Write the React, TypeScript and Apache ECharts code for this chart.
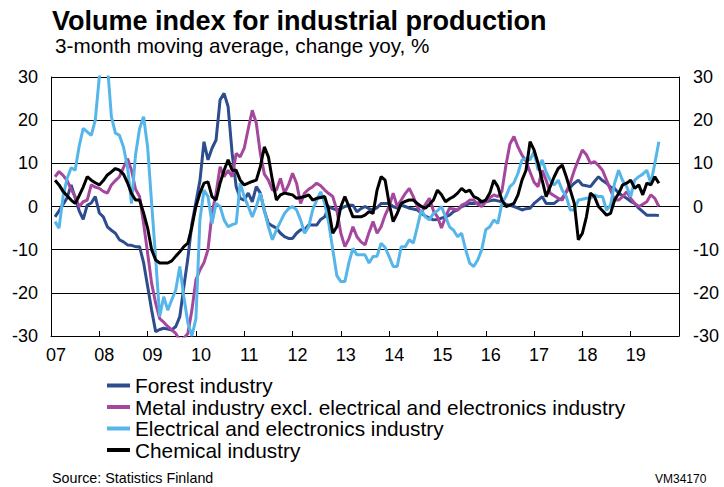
import React, { useEffect, useRef } from "react";
import * as echarts from "echarts";

// Monthly values, 3-month moving average, change yoy, %. First value = Feb 2007 (month index 1, Jan 2007 = 0)
const START_INDEX = 1;
const YEAR_TICKS = ["07", "08", "09", "10", "11", "12", "13", "14", "15", "16", "17", "18", "19"];
const SERIES_NAMES = [
  "Forest industry",
  "Metal industry excl. electrical and electronics industry",
  "Electrical and electronics industry",
  "Chemical industry",
];

const forest = [
  -2.4, -1, 0.5, 2, 5, 2, -1, -3, 0.3, 0.8, 2.3,
  -1.5, -2.4, -4.7, -5.5, -6.2, -7.7, -8.2, -8.9, -9, -9.3, -9.3, -13,
  -18.5, -24, -29, -28.5, -28.2, -28.4, -28.6, -27.8, -25.5, -18.6, -12, -4,
  1, 6, 15, 10.8, 13.5, 15.4, 24.7, 26.2, 23.1, 12.3, 4.6, 1.9,
  1.5, 3.1, 1.1, 4.6, 3.1, -1, -3.9, -4.5, -5, -6.2, -7, -7.4,
  -7.4, -6.2, -5.4, -5.4, -4.3, -4.3, -4.3, -3, -2.4, 0, -0.5, -0.8,
  -0.5, 0, 0.3, 0.3, -1.2, -0.5, 0, -0.5, -0.8, -0.3, 0.7, 0.7,
  0.7, 0, -0.4, 0.3, 0, -0.4, -0.6, -0.8, -1.6, -2.2, -2.7, -3.1,
  -3, -2.7, -2.4, -2, -1.2, -0.8, 0, 0.3, 0.7, 0.7, 0.8, 1,
  1.1, 1.3, 1.5, 1.3, 1.1, 0.5, 0.3, 0, -0.4, -0.8, -0.5, -0.4,
  0.7, 1.5, 2.3, 0.7, 0.7, 0.7, 1.5, 1.9, 3.4, 4.5, 5.4, 6.1,
  5, 4.8, 4.6, 5.8, 6.9, 6, 5.4, 4.5, 4.2, 3.1, 2.5, 1.9,
  1.2, 0.7, -0.4, -1.2, -2, -2, -2, -2.1,
];

const metal = [
  6.9, 8.1, 7.2, 6, 4, 2.3, 0, 1.1, 1.5, 5, 4.5,
  4.2, 3.5, 3.1, 5, 6, 6.9, 9, 11.1, 8.4, 4, 2.3, -3.9,
  -10.8, -17.8, -22.4, -26, -26.8, -27.8, -28.6, -29.4, -31, -30.5, -29.4, -24,
  -17, -14.7, -13, -10, -1.6, 3, 9.2, 6.9, 8.4, 6.9, 12.3, 11.5,
  13.5, 18, 22.3, 19.3, 12.3, 7.5, 6.1, 3.8, 3.8, 6.5, 3.1, 5,
  7.7, 5.4, 0.7, 3.1, 4, 4.6, 5.4, 4.8, 3.8, 3, 2.3, -0.8,
  -6.2, -9.3, -7.5, -4.7, -7, -8.2, -8.9, -6, -3.5, -6.2, -4.7, -2,
  0, 3.1, 0, 1.5, 3, 4.2, 2.3, 0, -1.6, 0.5, 1.9, -1,
  -2.4, -5, -2.4, -0.4, -0.6, -0.8, 0.3, 0.7, 1.5, 1.5, 0.5, 0,
  1.1, 2, 2.7, 2.3, 3.5, 9.5, 14.5, 16.2, 13.8, 11.9, 10.5, 8,
  5.6, 4.6, 8.4, 6.1, 3.1, 2.5, 1.9, 1.5, 3.4, 5.5, 8.4, 10.8,
  13.1, 12, 10, 10.4, 9.5, 8.4, 6.1, 3.8, 1.5, 1.5, 2.3, 3.4,
  1.9, 0.7, 0, 0.5, 1.1, 2.7, 1.9, 0,
];

const electrical = [
  -3.5, -5, 2.3, 6.5, 9, 8.4, 14, 18.1, 17.3, 16.5, 20,
  30, 34, 33, 20.8, 17, 16.5, 13.8, 9.2, 0.7, 12, 18, 20.8,
  13.8, 0.7, -12, -25.5, -20.9, -24, -21.6, -19.3, -13.9, -20.9, -27, -30,
  -26, -3, 3.8, 2.3, -3.9, 0.7, 0, -3.1, -4.7, -4.2, -3.9, 5.4,
  2.3, 0, -2.4, 0, 3.1, -0.8, -4.7, -7.7, -5.4, -3.5, -1.6, -0.5,
  0, -0.8, -3.1, -6.2, -4.7, -0.8, 1.5, 3.4, 0.7, -3.9, -10, -16,
  -17.4, -17.4, -13, -9.7, -11.2, -11.2, -11.2, -13.1, -11.6, -11.5, -8.5, -9.5,
  -11.6, -13.9, -13.9, -9.3, -9.3, -7.7, -8.5, -4.7, -0.8, -2.4, -3.1, -1.6,
  -1, 0, -2.4, -4.7, -5.5, -7, -6.2, -10, -13.1, -13.9, -12.4, -10,
  -5.4, -4.7, -3.1, -3.9, 0.7, 2.3, 4.6, 5.5, 7.7, 10.8, 11.1, 10.8,
  12.7, 8.4, 10.8, 8, 6.1, 5, 6.1, 3.8, 2.3, -0.8, -0.8, 1.5,
  1.7, 1.9, 1.9, 2.7, 2.3, 2.3, -0.8, 0.3, 5.4, 8.4, 6, 4.6,
  2.3, 6.1, 6.9, 7.5, 8.4, 5.4, 10, 15,
];

const chemical = [
  6.1, 5, 3.5, 2.5, 1.5, 0.7, 2.5, 4.5, 6.9, 6.1, 5.5,
  5, 6, 7.3, 8, 8.8, 8.4, 7.5, 5.5, 3, 1.5, 1.5, -1.5,
  -5, -10, -12.4, -13.1, -13.1, -13.1, -12.6, -11.5, -10.5, -9.3, -8.5, -4.7,
  0, 3.1, 5.4, 5.7, 2.3, 1.5, 5.4, 8.4, 10.8, 8.4, 8.4, 6.1,
  5, 5.4, 5.8, 6.1, 9.2, 13.8, 11.5, 6.1, 1.5, 2.7, 3.1, 2.9,
  2.7, 1.9, 2.1, 2.3, 2.7, 1.5, 1.9, 2.1, 2.3, -0.8, -6.2, -4.7,
  0, 2.3, 0, -2.4, -2.4, -2.4, -2, -1.2, -1.6, 3.8, 6.9, 6.1,
  0.7, -3.5, -1.6, 0.7, 1.2, 1.5, 1.5, 0.7, 0, -0.4, 0.5, 1.5,
  3.8, 2.7, 1.1, 1.8, 2.3, 3.1, 4.2, 3.4, 3.8, 2.3, 1.9, 1.1,
  1.5, 3.1, 6.1, 4.6, 1.5, 0, 0.3, 0.7, 2.7, 6.1, 8.4, 15,
  13.1, 10, 6.1, 2.3, 4.6, 6.9, 8.8, 9.6, 6.9, 3.8, 0.7, -7.7,
  -6.2, -2.4, 3.1, 2.3, 0, -1, -2, -1.6, 1.5, 3, 5, 5.4,
  6.1, 4.2, 5, 2.7, 5.4, 5, 6.9, 5.4,
];

const COLORS = ["#2E4D8E", "#A5489D", "#56B5E9", "#000000"];
const FONT = '"Liberation Sans", Arial, Helvetica, sans-serif';

const toData = (arr: number[]) => arr.map((v, i) => [i + START_INDEX, v]);

export default function App() {
  const ref = useRef<HTMLDivElement>(null);
  useEffect(() => {
    document.body.style.margin = "0";
    if (!ref.current) return;
    const chart = echarts.init(ref.current, undefined, { renderer: "svg" });
    const values = [forest, metal, electrical, chemical];
    const axisLabelStyle = { color: "#000", fontSize: 18, fontFamily: FONT };
    chart.setOption({
      animation: false,
      textStyle: { fontFamily: FONT },
      grid: { left: 51, right: 45, top: 77, bottom: 151, containLabel: false },
      xAxis: {
        type: "value",
        min: 0,
        max: 156,
        interval: 12,
        axisLine: { show: true, onZero: false, lineStyle: { color: "#000", width: 1 } },
        axisTick: { show: true, inside: true, length: 5, lineStyle: { color: "#000" } },
        axisLabel: {
          ...axisLabelStyle,
          margin: 10,
          padding: [0, 0, 0, 10],
          showMaxLabel: false,
          formatter: (v: number) => YEAR_TICKS[v / 12] ?? "",
        },
        splitLine: { show: false },
      },
      yAxis: [
        {
          type: "value",
          min: -30,
          max: 30,
          interval: 10,
          position: "left",
          axisLine: { show: true, lineStyle: { color: "#000", width: 1 } },
          axisTick: { show: false },
          axisLabel: { ...axisLabelStyle, margin: 13 },
          splitLine: { show: true, lineStyle: { color: "#000", width: 1 } },
        },
        {
          type: "value",
          min: -30,
          max: 30,
          interval: 10,
          position: "right",
          axisLine: { show: true, lineStyle: { color: "#000", width: 1 } },
          axisTick: { show: false },
          axisLabel: { ...axisLabelStyle, margin: 14 },
          splitLine: { show: false },
        },
      ],
      legend: {
        orient: "vertical",
        left: 102,
        top: 370,
        icon: "rect",
        itemWidth: 23,
        itemHeight: 4,
        itemGap: 0.5,
        textStyle: { color: "#000", fontSize: 20.8, lineHeight: 20, fontFamily: FONT },
        data: SERIES_NAMES,
      },
      graphic: [
        {
          type: "text",
          left: 52,
          top: 7,
          style: { text: "Volume index for industrial production", font: `bold 27px ${FONT}`, fill: "#000" },
        },
        {
          type: "text",
          left: 55,
          top: 35,
          style: { text: "3-month moving average, change yoy, %", font: `20.7px ${FONT}`, fill: "#000" },
        },
        {
          type: "text",
          left: 52,
          top: 471,
          style: { text: "Source: Statistics Finland", font: `14.3px ${FONT}`, fill: "#000" },
        },
        {
          type: "text",
          left: 655,
          top: 473,
          style: { text: "VM34170", font: `12px ${FONT}`, fill: "#000" },
        },
      ],
      series: SERIES_NAMES.map((name, i) => ({
        name,
        type: "line",
        data: toData(values[i]),
        symbol: "none",
        clip: true,
        color: COLORS[i],
        lineStyle: { width: 3, color: COLORS[i] },
      })),
    });
    return () => chart.dispose();
  }, []);
  return <div ref={ref} style={{ width: 724, height: 487 }} />;
}
